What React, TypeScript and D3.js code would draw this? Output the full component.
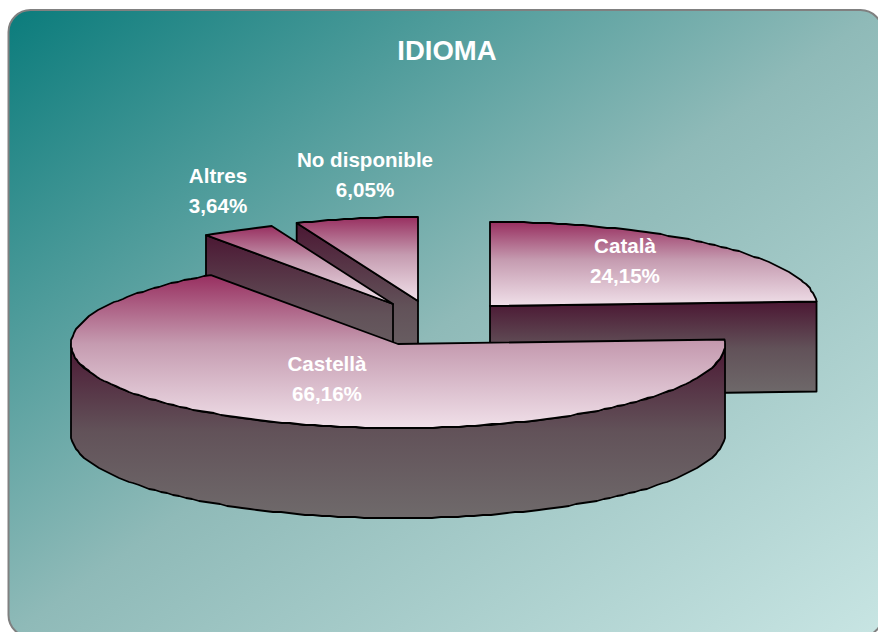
import React from "react";
import * as d3 from "d3";

const categories = ["Català", "Castellà", "Altres", "No disponible"];
const values = [24.15, 66.16, 3.64, 6.05];
const valueLabels = ["24,15%", "66,16%", "3,64%", "6,05%"];
const title = "IDIOMA";

const W = 878, H = 632;
const RX = 327, RY = 84, DEPTH = 90;
// per-slice layout (index follows categories)
const centers: [number, number][] = [[490, 306], [398, 344], [393, 304], [418, 301]];
const labelPos: [number, number][] = [[625, 253], [327, 371], [218, 183], [365, 167]];
const drawOrder = [0, 3, 2, 1];

const rx = d3.scaleLinear().domain([-1, 1]).range([-RX, RX]);
const ry = d3.scaleLinear().domain([-1, 1]).range([-RY, RY]);

type P = [number, number];
const line = d3.line<P>().curve(d3.curveLinear);

function rim(c: P, a0: number, a1: number, dy = 0): P[] {
  const n = Math.max(1, Math.ceil(Math.abs(a1 - a0) / (1.5 * Math.PI / 180)));
  return d3.range(n + 1).map((i) => {
    const a = a0 + ((a1 - a0) * i) / n;
    const x = c[0] + rx(Math.sin(a));
    const y = c[1] - ry(Math.cos(a)) + dy;
    if (i === 0 || i === n) return [x, y] as P;
    return [Math.round(x), Math.round(y)] as P;
  });
}

const pt = (c: P, a: number, dy = 0): P => [c[0] + rx(Math.sin(a)), c[1] - ry(Math.cos(a)) + dy];

export default function App() {
  const arcs = d3.pie<number>().sort(null).startAngle(0).endAngle(2 * Math.PI)(values);
  const PI = Math.PI;
  const strokeProps = { stroke: "#000", strokeWidth: 1.8, strokeLinejoin: "round" as const };
  return (
    <svg width={W} height={H} viewBox={`0 0 ${W} ${H}`} style={{ position: "absolute", left: 0, top: 0, fontFamily: "'Liberation Sans', Arial, sans-serif" }}>
      <defs>
        <linearGradient id="bg" x1="0" y1="0" x2="1" y2="1">
          <stop offset="0" stopColor="#0b7c7c" />
          <stop offset="0.5" stopColor="#8fbab8" />
          <stop offset="1" stopColor="#c8e5e3" />
        </linearGradient>
        <linearGradient id="topFace" x1="0" y1="0" x2="0" y2="1">
          <stop offset="0" stopColor="#982f60" />
          <stop offset="0.45" stopColor="#c59bb0" />
          <stop offset="1" stopColor="#f0e0e9" />
        </linearGradient>
        <linearGradient id="wall" x1="0" y1="0" x2="0" y2="1">
          <stop offset="0" stopColor="#4b1733" />
          <stop offset="0.5" stopColor="#625259" />
          <stop offset="1" stopColor="#6f6a6b" />
        </linearGradient>
      </defs>
      <rect x={8.5} y={10} width={874} height={627} rx={22} ry={22} fill="url(#bg)" stroke="#808080" strokeWidth={2} />
      <text x={447} y={59.5} textAnchor="middle" fill="#fff" fontWeight="bold" fontSize={27.5}>{title}</text>
      {drawOrder.map((i) => {
        const a = arcs[i];
        const c = centers[i];
        const s = a.startAngle, e = a.endAngle;
        const cosOut = (phi: number) => Math.cos(phi) < -1e-6;
        const faces: P[][] = [];
        if (cosOut(s - PI / 2)) faces.push([c, pt(c, s), pt(c, s, DEPTH), [c[0], c[1] + DEPTH]]);
        if (cosOut(e + PI / 2)) faces.push([c, pt(c, e), pt(c, e, DEPTH), [c[0], c[1] + DEPTH]]);
        const w0 = Math.max(s, PI / 2), w1 = Math.min(e, 3 * PI / 2);
        const wall: P[] | null = w1 > w0 ? [...rim(c, w0, w1), ...rim(c, w1, w0, DEPTH)] : null;
        const top: P[] = [c, ...rim(c, s, e)];
        return (
          <g key={categories[i]}>
            {faces.map((f, k) => <path key={k} d={line(f) + "Z"} fill="url(#wall)" {...strokeProps} />)}
            {wall && <path d={line(wall) + "Z"} fill="url(#wall)" {...strokeProps} />}
            <path d={line(top) + "Z"} fill="url(#topFace)" {...strokeProps} />
          </g>
        );
      })}
      {categories.map((cat, i) => (
        <g key={cat} fill="#fff" fontWeight="bold" fontSize={20.6} textAnchor="middle">
          <text x={labelPos[i][0]} y={labelPos[i][1]}>{cat}</text>
          <text x={labelPos[i][0]} y={labelPos[i][1] + 30}>{valueLabels[i]}</text>
        </g>
      ))}
    </svg>
  );
}
